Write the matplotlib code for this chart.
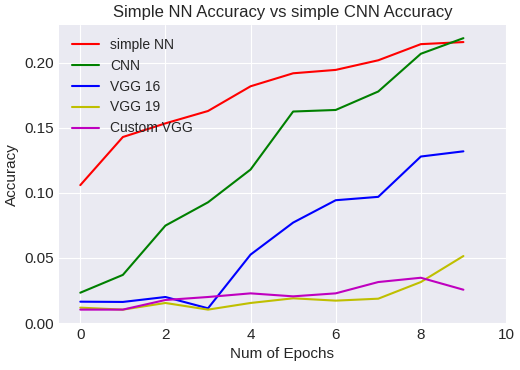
import matplotlib
matplotlib.use("Agg")
import matplotlib.pyplot as plt

epochs = list(range(10))
simple_nn = [0.106, 0.143, 0.1535, 0.163, 0.182, 0.192, 0.1946, 0.202, 0.2144, 0.216]
cnn = [0.0233, 0.037, 0.0749, 0.0928, 0.118, 0.1626, 0.1638, 0.178, 0.207, 0.219]
vgg16 = [0.0164, 0.0162, 0.020, 0.0113, 0.0526, 0.0772, 0.0944, 0.097, 0.128, 0.132]
vgg19 = [0.0118, 0.0103, 0.0154, 0.0103, 0.0154, 0.019, 0.0172, 0.0187, 0.0315, 0.0515]
custom_vgg = [0.0103, 0.0103, 0.0177, 0.020, 0.0228, 0.0205, 0.0228, 0.0315, 0.0348, 0.0256]

plt.style.use("seaborn-v0_8-darkgrid")
plt.rcParams["font.family"] = ["Liberation Sans", "DejaVu Sans"]

fig = plt.figure(figsize=(5.2, 3.7), dpi=100)
ax = fig.add_axes([0.1135, 0.127, 0.8595, 0.805])

ax.plot(epochs, simple_nn, 'r-', label='simple NN')
ax.plot(epochs, cnn, 'g-', label='CNN')
ax.plot(epochs, vgg16, 'b-', label='VGG 16')
ax.plot(epochs, vgg19, 'y-', label='VGG 19')
ax.plot(epochs, custom_vgg, 'm-', label='Custom VGG')

ax.set_xlim(-0.5, 10)
ax.set_ylim(0, 0.229)
ax.set_yticks([0, 0.05, 0.10, 0.15, 0.20])
ax.set_yticklabels(["0.00", "0.05", "0.10", "0.15", "0.20"])
ax.tick_params(labelsize=11)
ax.set_title("Simple NN Accuracy vs simple CNN Accuracy", fontsize=12)
ax.set_xlabel("Num of Epochs", fontsize=11)
ax.set_ylabel("Accuracy", fontsize=11)
ax.legend(loc='upper left', fontsize=10, frameon=False)

fig.savefig("out.png", dpi=100)
